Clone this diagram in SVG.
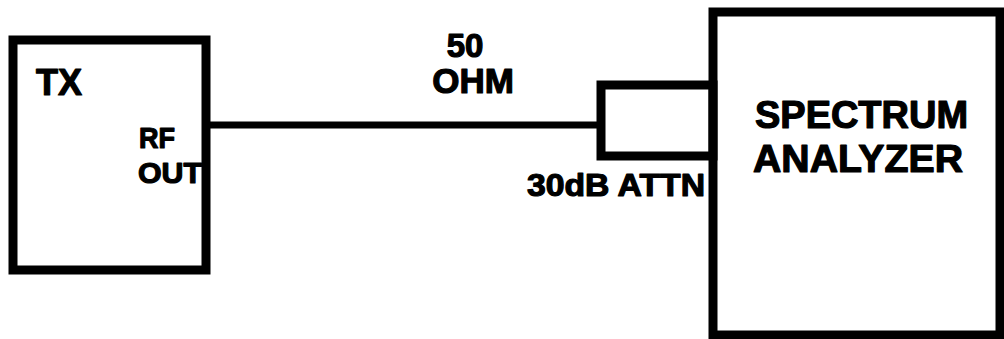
<svg xmlns="http://www.w3.org/2000/svg" width="1004" height="339" viewBox="0 0 1004 339">
<style>
.box{fill:none;stroke:#000;stroke-width:9}
.t{font-family:"Liberation Sans",Arial,sans-serif;font-weight:bold;fill:#000;stroke:#000;stroke-width:1.2;stroke-linejoin:round}
</style>
<rect width="1004" height="339" fill="#fff"/>
<g id="connectors">
<line x1="206" y1="125" x2="601" y2="125" stroke="#000" stroke-width="7"/>
</g>
<g id="tx">
<rect class="box" x="13" y="40" width="193" height="230"/>
<text class="t" x="36" y="95" font-size="36">TX</text>
<text class="t" x="139" y="148" font-size="29" textLength="36" lengthAdjust="spacingAndGlyphs">RF</text>
<text class="t" x="138" y="183" font-size="29" textLength="64" lengthAdjust="spacingAndGlyphs">OUT</text>
</g>
<g id="cable-label">
<text class="t" x="465" y="57" font-size="33" text-anchor="middle">50</text>
<text class="t" x="473" y="93" font-size="35" text-anchor="middle">OHM</text>
</g>
<g id="attenuator">
<rect class="box" x="601" y="85" width="112" height="71"/>
<text class="t" x="527" y="196" font-size="32" textLength="178" lengthAdjust="spacingAndGlyphs">30dB ATTN</text>
</g>
<g id="analyzer">
<rect class="box" x="713" y="12" width="287" height="323"/>
<text class="t" x="755" y="128" font-size="38" textLength="213" lengthAdjust="spacingAndGlyphs">SPECTRUM</text>
<text class="t" x="753" y="172" font-size="38" textLength="210" lengthAdjust="spacingAndGlyphs">ANALYZER</text>
</g>
</svg>
